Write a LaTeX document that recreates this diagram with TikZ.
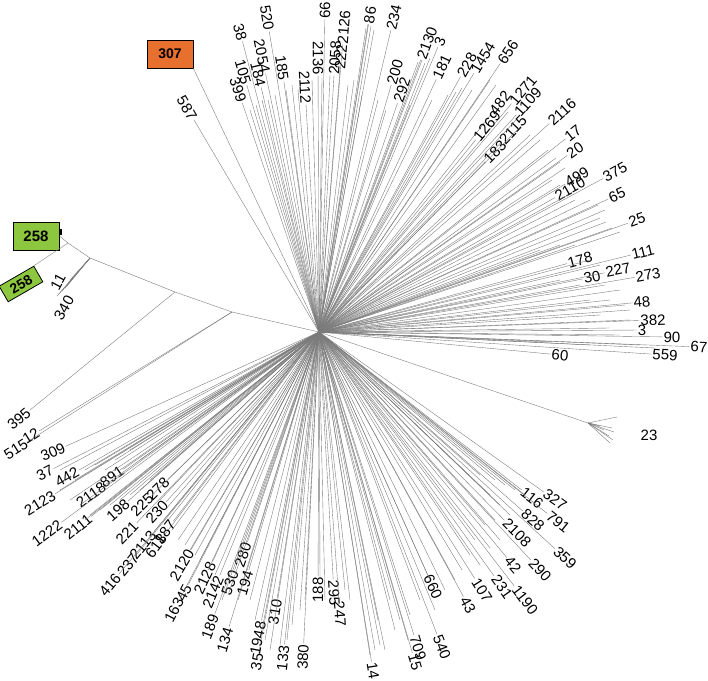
\documentclass[tikz,border=0pt]{standalone}
\usepackage{fontspec}
\setmainfont{Liberation Sans}
\usetikzlibrary{calc}
\definecolor{orangebox}{RGB}{232,112,46}
\definecolor{greenbox}{RGB}{141,198,63}
\tikzset{
  lab/.style={font=\fontsize{15}{15}\selectfont, inner sep=1pt},
  br/.style={draw=black!52, line width=0.38pt},
  boxo/.style={draw=black, line width=0.8pt, fill=orangebox, font=\bfseries\fontsize{14}{14}\selectfont, minimum width=46pt, minimum height=28pt, inner sep=0pt},
  boxg/.style={draw=black, line width=0.8pt, fill=greenbox, font=\bfseries\fontsize{15}{15}\selectfont, minimum width=46pt, minimum height=28pt, inner sep=0pt},
}
% parent, name, position, text
\newcommand\tlf[4]{%
  \path let \p1=($(#3)-(#1)$), \n1={atan2(\y1,\x1)}, \n2={\n1-180*(\n1>90)+180*(\n1<-90)} in node[lab,rotate=\n2] (#2) at (#3) {#4};
  \draw[br] (#1) -- (#2);
}
\begin{document}
\begin{tikzpicture}[x=1pt,y=-1pt]
\useasboundingbox (0,0) rectangle (708,680);
\coordinate (C) at (319,332);
\coordinate (P1) at (232,312);
\coordinate (P2) at (175,292);
\coordinate (A) at (90,258);
\coordinate (B) at (68,243);

% boxes
\node[boxo] (b307) at (170,54) {307};
\node[boxg] (b258a) at (36,236) {258};
\node[boxg, minimum width=40pt, minimum height=18pt, font=\bfseries\fontsize{14}{14}\selectfont, rotate=30] (b258b) at (21,284) {258};
\fill (59,229) rectangle (62,235);
\draw[br] (C) -- (b307.south east);
\draw[br] (C) -- (P1) -- (P2) -- (A) -- (B) -- (b258a.east);
\draw[br] (B) -- (b258b.north east);

% 11 / 340 cluster
\foreach \xx/\yy [count=\i] in {70/280,68/283,67/286,65/288,62/291,59/294,57/296}{
  \coordinate (k\i) at (\xx,\yy); \draw[br] (A) -- (k\i);}
\node[lab,rotate=62] (n11) at (58,282) {11};
\node[lab,rotate=60] (n340) at (64,308) {340};

% 23 cluster
\coordinate (H23) at (588,423);
\draw[br] (C) -- (H23);
\foreach \xx/\yy [count=\i] in {617/417,612/428,614/432,609/436,613/440,610/443,604/430,600/426}{
  \coordinate (t\i) at (\xx,\yy); \draw[br] (H23) -- (t\i);}
\node[lab] (n23) at (649,435) {23};

% labelled leaves, top
\tlf{C}{n587}{187,108}{587}
\tlf{C}{n38}{240,32}{38}
\tlf{C}{n520}{267,18}{520}
\tlf{C}{n2054}{262,56}{2054}
\tlf{C}{n184}{258,74}{184}
\tlf{C}{n105}{243,72}{105}
\tlf{C}{n399}{238,90}{399}
\tlf{C}{n185}{282,68}{185}
\tlf{C}{n2112}{305,87}{2112}
\tlf{C}{n2136}{318,58}{2136}
\tlf{C}{n66}{325,10}{66}
\tlf{C}{n2058}{335,58}{2058}
\tlf{C}{n222}{341,57}{222}
\tlf{C}{n2126}{344,27}{2126}
\tlf{C}{n86}{370,15}{86}
\tlf{C}{n234}{394,17}{234}
\tlf{C}{n200}{395,72}{200}
\tlf{C}{n292}{402,90}{292}
\tlf{C}{n2130}{427,43}{2130}
\tlf{C}{n3a}{440,42}{3}
\tlf{C}{n181}{442,67}{181}
\tlf{C}{n228}{467,65}{228}
\tlf{C}{n1454}{483,58}{1454}
\tlf{C}{n656}{508,52}{656}
\tlf{C}{n482}{500,103}{482}
\tlf{C}{n1271}{523,90}{1271}
\tlf{C}{n1109}{528,102}{1109}
\tlf{C}{n1269}{487,126}{1269}
\tlf{C}{n2116}{562,112}{2116}
\tlf{C}{n2115}{513,130}{2115}
\tlf{C}{n183}{495,152}{183}
\tlf{C}{n17}{573,133}{17}
\tlf{C}{n20}{575,150}{20}
\tlf{C}{n499}{577,177}{499}
\tlf{C}{n2110}{570,189}{2110}
\tlf{C}{n375}{615,172}{375}
\tlf{C}{n65}{617,195}{65}
\tlf{C}{n25}{637,220}{25}
% right
\tlf{C}{n178}{580,260}{178}
\tlf{C}{n111}{643,252}{111}
\tlf{C}{n30}{592,277}{30}
\tlf{C}{n227}{618,270}{227}
\tlf{C}{n273}{648,275}{273}
\tlf{C}{n48}{642,302}{48}
\tlf{C}{n382}{653,320}{382}
\tlf{C}{n3b}{642,330}{3}
\tlf{C}{n90}{672,337}{90}
\tlf{C}{n67}{699,347}{67}
\tlf{C}{n60}{560,355}{60}
\tlf{C}{n559}{665,355}{559}
% lower right
\tlf{C}{n116}{532,498}{116}
\tlf{C}{n327}{555,500}{327}
\tlf{C}{n828}{533,520}{828}
\tlf{C}{n791}{558,522}{791}
\tlf{C}{n2108}{517,533}{2108}
\tlf{C}{n359}{565,558}{359}
\tlf{C}{n42}{513,565}{42}
\tlf{C}{n290}{540,570}{290}
\tlf{C}{n107}{482,590}{107}
\tlf{C}{n231}{502,587}{231}
\tlf{C}{n1190}{525,600}{1190}
\tlf{C}{n43}{468,605}{43}
\tlf{C}{n660}{433,587}{660}
\tlf{C}{n540}{442,647}{540}
\tlf{C}{n709}{418,648}{709}
\tlf{C}{n15}{415,662}{15}
\tlf{C}{n14}{373,671}{14}
% bottom
\tlf{C}{n380}{303,657}{380}
\tlf{C}{n133}{283,658}{133}
\tlf{C}{n35}{257,662}{35}
\tlf{C}{n1948}{258,638}{1948}
\tlf{C}{n310}{275,612}{310}
\tlf{C}{n188}{318,590}{188}
\tlf{C}{n295}{334,593}{295}
\tlf{C}{n247}{340,614}{247}
\tlf{C}{n189}{210,627}{189}
\tlf{C}{n134}{225,640}{134}
\tlf{C}{n194}{245,583}{194}
\tlf{C}{n530}{230,583}{530}
\tlf{C}{n280}{243,555}{280}
\tlf{C}{n2142}{213,592}{2142}
\tlf{C}{n2128}{205,578}{2128}
\tlf{C}{n45}{184,593}{45}
\tlf{C}{n163}{174,610}{163}
\tlf{C}{n2120}{182,565}{2120}
% lower left
\tlf{C}{n618}{156,546}{618}
\tlf{C}{n187}{165,532}{187}
\tlf{C}{n2113}{143,545}{2113}
\tlf{C}{n230}{157,512}{230}
\tlf{C}{n278}{158,489}{278}
\tlf{C}{n225}{142,505}{225}
\tlf{C}{n221}{127,533}{221}
\tlf{C}{n198}{118,510}{198}
\tlf{C}{n891}{112,477}{891}
\tlf{C}{n2118}{91,495}{2118}
\tlf{C}{n2111}{78,527}{2111}
\tlf{C}{n1222}{47,533}{1222}
\tlf{C}{n2123}{40,503}{2123}
\tlf{C}{n442}{67,477}{442}
\tlf{C}{n37}{45,473}{37}
\tlf{C}{n309}{53,452}{309}
\tlf{C}{n237}{128,565}{237}
\tlf{C}{n416}{110,585}{416}
\tlf{P1}{n515}{16,449}{515}
\tlf{P1}{n12}{31,436}{12}
\tlf{P2}{n395}{19,419}{395}

% unlabelled branches
\foreach \xx/\yy [count=\i] in {
 250/110,256/105,262/100,268/100,275/95,286/90,292/85,298/90,312/80,322/78,330/75,348/85,354/80,362/95,
 366/28,368/24,371/26,374/30,378/100,386/110,410/105,418/62,422/60,425/63,430/58,432/100,448/95,456/92,
 462/88,472/90,490/80,496/85,
 508/112,516/120,522/125,530/135,540/140,548/150,556/158,560/162,565/168,552/180,560/185,568/195,575/200,
 590/200,598/205,605/210,600/218,606/222,612/228,620/232,
 540/250,560/245,575/245,590/260,600/265,560/280,580/285,605/285,620/290,590/300,610/300,625/305,630/310,
 600/315,630/320,610/328,620/335,590/345,640/345,655/348,550/342,
 480/475,495/480,505/485,515/490,525/495,490/495,500/505,510/515,495/520,485/525,500/540,475/540,490/548,
 470/555,480/565,462/570,455/580,445/590,430/580,420/600,435/610,410/615,400/620,395/630,408/640,385/650,
 380/645,375/650,370/655,390/600,378/620,
 350/600,345/590,325/600,320/580,305/600,300/610,292/625,287/640,280/645,270/650,265/640,262/630,255/620,
 250/600,238/600,228/595,222/600,215/575,208/570,200/560,195/555,190/550,185/545,178/540,172/530,168/520,
 165/510,160/500,
 150/480,140/490,130/495,120/500,110/505,100/510,90/515,85/520,80/505,70/500,60/490,75/480,85/470,95/465,
 105/470,120/470,115/460,130/450,140/460,60/470}{
  \coordinate (u\i) at (\xx,\yy); \draw[br] (C) -- (u\i);}
\end{tikzpicture}
\end{document}
